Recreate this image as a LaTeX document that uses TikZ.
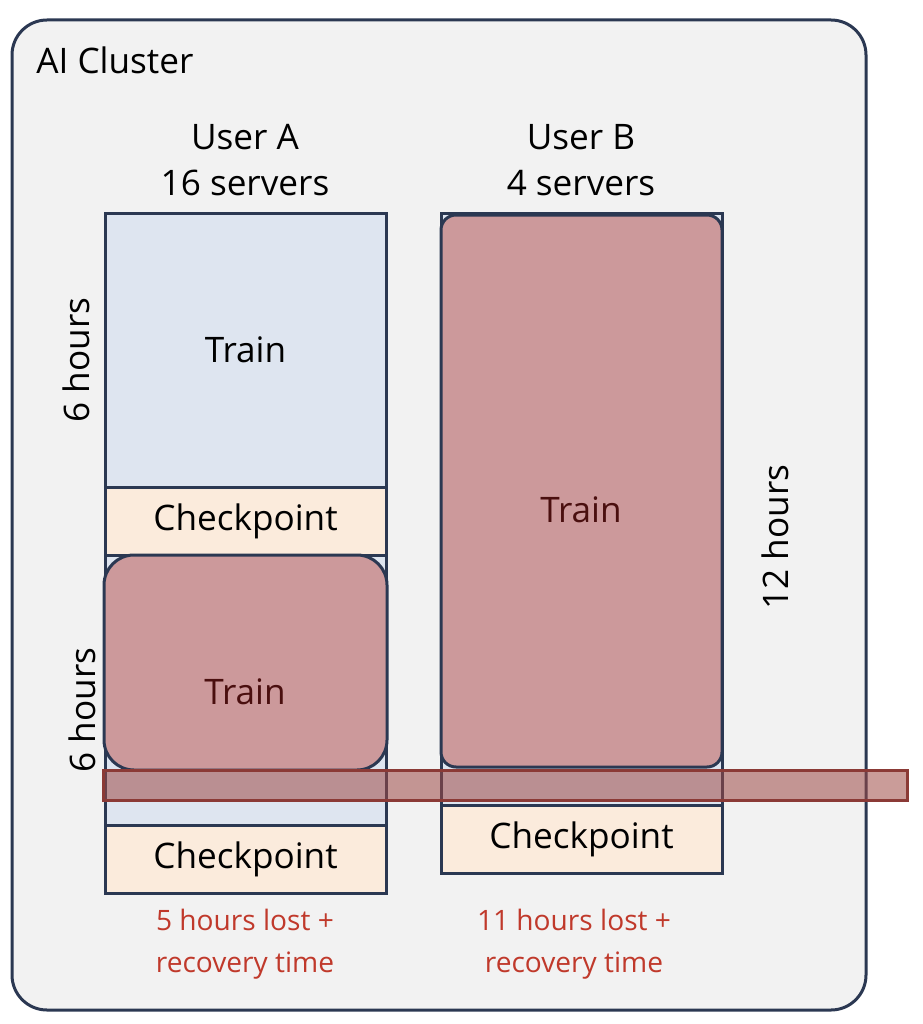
\documentclass[tikz,border=0pt]{standalone}
\usepackage{fontspec}
\setmainfont{Open Sans}
\usetikzlibrary{positioning}
\definecolor{navy}{HTML}{2B3852}
\definecolor{clusterbg}{HTML}{F2F2F2}
\definecolor{trainblue}{HTML}{DEE5F0}
\definecolor{ckptpeach}{HTML}{FBEBDC}
\definecolor{failred}{HTML}{CC999B}
\definecolor{bandred}{HTML}{9E4A45}
\definecolor{bandedge}{HTML}{8B3A36}
\definecolor{losttext}{HTML}{C0392B}
\definecolor{traindark}{HTML}{4A0F0F}
\tikzset{
  font=\fontsize{10}{13}\selectfont,
  cluster/.style={
    draw=navy,
    fill=clusterbg,
    line width=0.3mm,
    rounded corners=3.5mm
  },
  slot/.style={
    draw=navy,
    line width=0.3mm,
    outer sep=0pt,
    inner sep=0pt,
    minimum width=28.1mm
  },
  trainbox/.style={slot, fill=trainblue},
  ckptbox/.style={slot, fill=ckptpeach, minimum height=6.8mm},
  failbox/.style={slot, fill=failred},
  band/.style={
    draw=bandedge,
    fill=bandred,
    fill opacity=0.55,
    line width=0.3mm,
    minimum width=80.4mm,
    minimum height=3mm,
    inner sep=0pt
  },
  usertext/.style={align=center},
  hours/.style={rotate=90},
  lost/.style={align=center, text=losttext, font=\fontsize{8}{12}\selectfont}
}
\begin{document}
\begin{tikzpicture}[x=0.1mm, y=-0.1mm]
\useasboundingbox (0,0) rectangle (922,1024);

\draw[cluster] (12,20) rectangle (866,1010);
\node[anchor=west] (title) at (24,60) {AI Cluster};

% User A column
\node[usertext] (userA) at (245,160) {User A\\16 servers};
\node[trainbox, minimum height=27.4mm] (trainA) at (245.5,350) {Train};
\node[ckptbox, below=0pt of trainA] (ckptA1) {Checkpoint};
\node[trainbox, minimum height=27.0mm, below=0pt of ckptA1] (restA) {};
\node[ckptbox, below=0pt of restA] (ckptA2) {Checkpoint};
\node[failbox, rounded corners=3mm, minimum width=28.3mm, minimum height=21.5mm] (failA) at (245.5,662.5) {};
\node[text=traindark] (failAtxt) at (245,692) {Train};

% User B column
\node[usertext] (userB) at (581,160) {User B\\4 servers};
\node[trainbox, minimum height=59.2mm] (restB) at (581.5,509) {};
\node[ckptbox, minimum height=6.8mm] (ckptB) at (581.5,839) {Checkpoint};
\node[failbox, rounded corners=1.5mm, minimum height=55.2mm] (failB) at (581.5,491) {};
\node[text=traindark] (failBtxt) at (581,510) {Train};

% durations
\node[hours] (hoursA1) at (76,360) {6 hours};
\node[hours] (hoursA2) at (82,710) {6 hours};
\node[hours] (hoursB) at (775,537) {12 hours};

% failure
\node[band] (fail) at (505,785) {};

\node[lost] (lostA) at (245,944) {5 hours lost +\\recovery time};
\node[lost] (lostB) at (574,944) {11 hours lost +\\recovery time};

\end{tikzpicture}
\end{document}
